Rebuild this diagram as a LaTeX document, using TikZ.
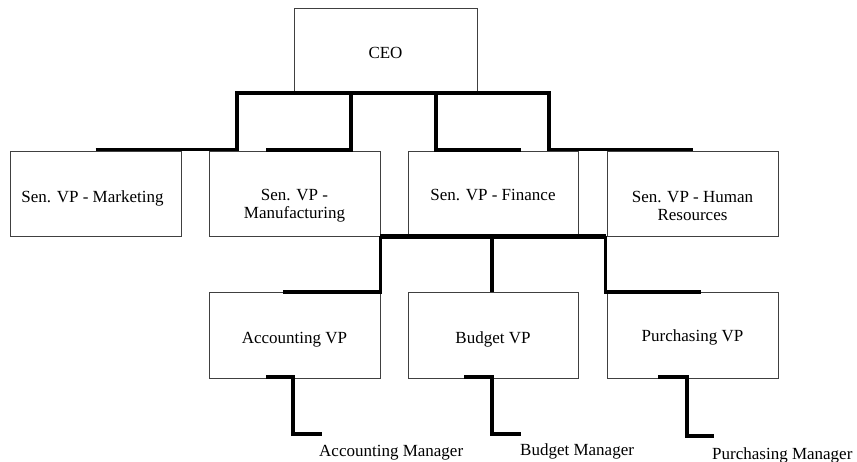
\documentclass[tikz,border=0pt]{standalone}
\usepackage{fontspec}
\setmainfont{Liberation Serif}
\begin{document}
\begin{tikzpicture}[x=1pt,y=-1pt,
  box/.style={draw=black!75, line width=0.9pt, rectangle, inner sep=0pt, minimum width=171pt, minimum height=85pt},
  lbl/.style={font=\fontsize{17}{18}\selectfont, align=center, inner sep=0pt},
  conn/.style={line width=3.6pt, line join=miter},
  connB/.style={line width=5pt, line join=miter}]
\useasboundingbox (0,0) rectangle (857,462);
% boxes
\node[box, minimum width=183pt, minimum height=84pt] (ceo) at (385.5,50) {};
\node[box] (mkt) at (95.5,193.5) {};
\node[box] (mfg) at (294.5,193.5) {};
\node[box, minimum width=170pt] (fin) at (493,193.5) {};
\node[box] (hr) at (692.5,193.5) {};
\node[box, minimum height=86pt] (acc) at (294.5,335) {};
\node[box, minimum width=170pt, minimum height=86pt] (bud) at (493,335) {};
\node[box, minimum height=86pt] (pur) at (692.5,335) {};
% texts
\node[lbl] (ceoT) at ([yshift=-3pt]ceo.center) {CEO};
\node[lbl] (mktT) at ([xshift=-3pt,yshift=-4.5pt]mkt.center) {Sen. VP - Marketing};
\node[lbl] (mfgT) at ([yshift=-12pt]mfg.center) {Sen. VP -\\Manufacturing};
\node[lbl] (finT) at ([yshift=-2pt]fin.center) {Sen. VP - Finance};
\node[lbl] (hrT) at ([yshift=-12pt]hr.center) {Sen. VP - Human\\Resources};
\node[lbl] (accT) at ([yshift=-4.5pt]acc.center) {Accounting VP};
\node[lbl] (budT) at ([yshift=-4pt]bud.center) {Budget VP};
\node[lbl] (purT) at ([yshift=-2.5pt]pur.center) {Purchasing VP};
\node[lbl, anchor=base west] (accM) at (319,456) {Accounting Manager};
\node[lbl, anchor=base west] (budM) at (520,455) {Budget Manager};
\node[lbl, anchor=base west] (purM) at (712,459) {Purchasing Manager};
% junction coordinates
\coordinate (ceoL) at (237,93);
\coordinate (ceoR) at (549,93);
\coordinate (ceoA) at (351,93);
\coordinate (ceoB) at (436,93);
\coordinate (mfgIn) at (266,150);
\coordinate (finIn) at (521,150);
\coordinate (accIn) at (283,292);
\coordinate (purIn) at (701,292);
\coordinate (accOut) at (266,377);
\coordinate (accBend) at (293,434);
\coordinate (accEnd) at (322,434);
\coordinate (budOut) at (464,377);
\coordinate (budBend) at (492,434);
\coordinate (budEnd) at (521,434);
\coordinate (purOut) at (658,377);
\coordinate (purBend) at (687,436);
\coordinate (purEnd) at (714,436);
% connectors
\draw[conn] ([yshift=1pt]mkt.north) -| (ceoL) -- (ceoR) |- ([yshift=1pt]hr.north);
\draw[conn] (mfgIn) -| (ceoA);
\draw[conn] (ceoB) |- (finIn);
\draw[connB] (mfg.south east) -- ([xshift=-1pt]hr.south west);
\draw[conn] (accIn) -| (mfg.south east);
\draw[conn] ([xshift=-1pt]fin.south) -- ([xshift=-1pt]bud.north);
\draw[conn] ([xshift=-1pt]hr.south west) |- (purIn);
\draw[conn] (accOut) -| (accBend) -- (accEnd);
\draw[conn] (budOut) -| (budBend) -- (budEnd);
\draw[conn] (purOut) -| (purBend) -- (purEnd);
\end{tikzpicture}
\end{document}
